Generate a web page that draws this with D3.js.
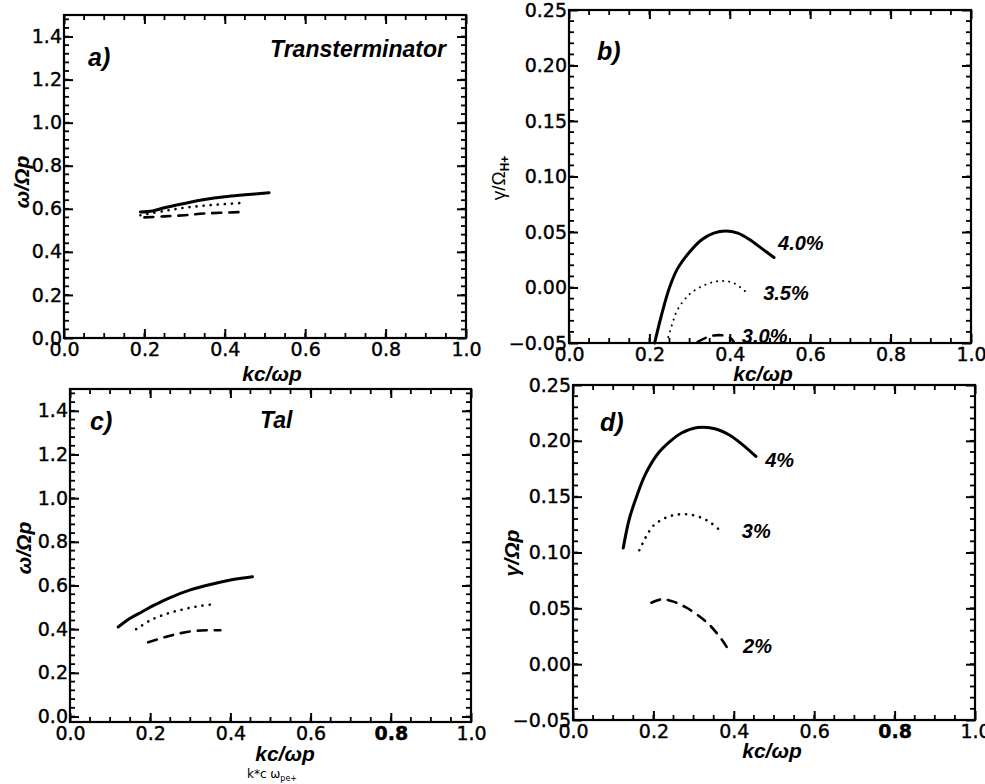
<!DOCTYPE html>
<html>
<head>
<meta charset="utf-8">
<script src="https://cdn.jsdelivr.net/npm/d3@7"></script>
<style>
  body { margin: 0; background: #fff; }
  .tick text { font-family: "DejaVu Sans", sans-serif; font-size: 19px; fill: #000; stroke: #000; stroke-width: 0.4px; }
  .ttl { font-family: "Liberation Sans", Arial, sans-serif; font-weight: bold; font-style: italic; fill: #000; }
</style>
</head>
<body>
<svg id="fig" width="985" height="784"></svg>
<script>
// tick labels
const kTicks = [0, 0.2, 0.4, 0.6, 0.8, 1.0];
const omegaTicks = [0, 0.2, 0.4, 0.6, 0.8, 1.0, 1.2, 1.4];
const gammaTicks = [-0.05, 0, 0.05, 0.10, 0.15, 0.20, 0.25];

// a) Transterminator, real frequency  [kc/wp, w/Wp]
const aSolid  = [[0.19,0.585],[0.22,0.59],[0.25,0.605],[0.30,0.625],[0.35,0.643],[0.40,0.656],[0.45,0.665],[0.51,0.675]];
const aDotted = [[0.19,0.57],[0.25,0.59],[0.30,0.605],[0.35,0.615],[0.40,0.622],[0.45,0.628]];
const aDashed = [[0.20,0.56],[0.25,0.565],[0.30,0.57],[0.35,0.578],[0.44,0.585]];

// b) Transterminator, growth rate
const bSolid  = [[0.213,-0.05],[0.23,-0.025],[0.25,0.0],[0.27,0.017],[0.30,0.032],[0.33,0.043],[0.36,0.049],[0.39,0.051],[0.42,0.049],[0.45,0.043],[0.48,0.035],[0.51,0.027]];
const bDotted = [[0.243,-0.05],[0.255,-0.035],[0.27,-0.02],[0.30,-0.006],[0.33,0.001],[0.36,0.005],[0.38,0.006],[0.41,0.004],[0.44,-0.004]];
const bDashed = [[0.32,-0.049],[0.35,-0.044],[0.38,-0.043],[0.40,-0.045],[0.41,-0.049]];

// c) Tal, real frequency
const cSolid  = [[0.12,0.41],[0.15,0.45],[0.18,0.48],[0.21,0.51],[0.25,0.545],[0.30,0.58],[0.35,0.605],[0.40,0.625],[0.455,0.64]];
const cDotted = [[0.165,0.40],[0.20,0.44],[0.24,0.47],[0.28,0.49],[0.32,0.505],[0.36,0.515]];
const cDashed = [[0.195,0.34],[0.23,0.36],[0.26,0.375],[0.30,0.39],[0.34,0.395],[0.375,0.395]];

// d) Tal, growth rate
const dSolid  = [[0.125,0.104],[0.14,0.13],[0.16,0.152],[0.18,0.17],[0.21,0.188],[0.24,0.199],[0.27,0.207],[0.31,0.212],[0.35,0.211],[0.39,0.205],[0.42,0.197],[0.455,0.186]];
const dDotted = [[0.165,0.102],[0.18,0.113],[0.20,0.124],[0.23,0.131],[0.26,0.134],[0.29,0.134],[0.32,0.131],[0.345,0.126],[0.365,0.12]];
const dDashed = [[0.195,0.055],[0.22,0.058],[0.25,0.056],[0.28,0.051],[0.31,0.044],[0.34,0.035],[0.37,0.022],[0.39,0.011]];

const bLabels = [["4.0%", 0.52, 0.034], ["3.5%", 0.483, -0.011], ["3.0%", 0.43, -0.05]];
const dLabels = [["4%", 0.478, 0.177], ["3%", 0.42, 0.113], ["2%", 0.423, 0.01]];

const styles = {
  solid:  {w: 3,   dash: null},
  dotted: {w: 2.6, dash: "0.1 7"},
  fine:   {w: 2,   dash: "0.1 6"},
  dashed: {w: 2.6, dash: "9 8"}
};

const svg = d3.select("#fig");

const panels = [
  {l: 64, r: 466, t: 15, b: 338, yDom: [0, 1.5], yTicks: omegaTicks, yMinor: 0.04, yFmt: ".1f",
   series: [[aSolid, "solid"], [aDotted, "dotted"], [aDashed, "dashed"]],
   tag: ["a)", 88, 66], xTitle: [272, 381], yTitle: [22, 182, "ω/Ωp"]},
  {l: 569, r: 971, t: 10, b: 343, yDom: [-0.05, 0.25], yTicks: gammaTicks, yMinor: 0.01, yFmt: ".2f",
   series: [[bSolid, "solid"], [bDotted, "fine"], [bDashed, "dashed"]],
   tag: ["b)", 597, 60], xTitle: [763, 381], labels: bLabels},
  {l: 70, r: 471, t: 389, b: 722, yDom: [-0.025, 1.5], yTicks: omegaTicks, yMinor: 0.04, yFmt: ".1f",
   series: [[cSolid, "solid"], [cDotted, "dotted"], [cDashed, "dashed"]],
   tag: ["c)", 90, 430], xTitle: [285, 761], yTitle: [24, 548, "ω/Ωp"], bold08: true},
  {l: 573, r: 975, t: 385, b: 720, yDom: [-0.05, 0.25], yTicks: gammaTicks, yMinor: 0.01, yFmt: ".2f",
   series: [[dSolid, "solid"], [dDotted, "dotted"], [dDashed, "dashed"]],
   tag: ["d)", 600, 431], xTitle: [772, 758], yTitle: [512, 553, "γ/Ωp"], labels: dLabels, bold08: true}
];

panels.forEach(p => {
  const x = d3.scaleLinear().domain([0, 1]).range([p.l, p.r]);
  const y = d3.scaleLinear().domain(p.yDom).range([p.b, p.t]);
  const g = svg.append("g");

  const xMinor = d3.range(0, 1.0001, 0.05);
  const yMinor = d3.range(p.yTicks[0], p.yDom[1] + 1e-6, p.yMinor);

  g.append("rect")
    .attr("x", p.l).attr("y", p.t)
    .attr("width", p.r - p.l).attr("height", p.b - p.t)
    .attr("fill", "none").attr("stroke", "#000").attr("stroke-width", 2.2);

  // minor ticks, pointing inward from all four sides
  const mg = g.append("g").attr("stroke", "#000").attr("stroke-width", 1.8);
  mg.selectAll(".mx").data(xMinor).join("line")
    .attr("x1", d => x(d)).attr("x2", d => x(d))
    .attr("y1", p.b).attr("y2", p.b - 5);
  mg.selectAll(".mxt").data(xMinor).join("line")
    .attr("x1", d => x(d)).attr("x2", d => x(d))
    .attr("y1", p.t).attr("y2", p.t + 5);
  mg.selectAll(".my").data(yMinor).join("line")
    .attr("x1", p.l).attr("x2", p.l + 5)
    .attr("y1", d => y(d)).attr("y2", d => y(d));
  mg.selectAll(".myr").data(yMinor).join("line")
    .attr("x1", p.r).attr("x2", p.r - 5)
    .attr("y1", d => y(d)).attr("y2", d => y(d));

  // major ticks, labels on bottom and left
  g.append("g").attr("transform", `translate(0,${p.b})`)
    .call(d3.axisBottom(x).tickValues(kTicks).tickSize(-9).tickSizeOuter(0).tickPadding(5).tickFormat(d3.format(".1f")))
    .call(s => s.select(".domain").remove())
    .call(s => s.selectAll("line").attr("stroke-width", 2))
    .call(s => s.selectAll("text").attr("font-weight", d => p.bold08 && d === 0.8 ? "bold" : null));
  g.append("g").attr("transform", `translate(0,${p.t})`)
    .call(d3.axisTop(x).tickValues(kTicks).tickSize(-9).tickSizeOuter(0).tickFormat(""))
    .call(s => s.select(".domain").remove())
    .selectAll("line").attr("stroke-width", 2);
  g.append("g").attr("transform", `translate(${p.l},0)`)
    .call(d3.axisLeft(y).tickValues(p.yTicks).tickSize(-9).tickSizeOuter(0).tickPadding(2).tickFormat(d3.format(p.yFmt)))
    .call(s => s.select(".domain").remove())
    .selectAll("line").attr("stroke-width", 2);
  g.append("g").attr("transform", `translate(${p.r},0)`)
    .call(d3.axisRight(y).tickValues(p.yTicks).tickSize(-9).tickSizeOuter(0).tickFormat(""))
    .call(s => s.select(".domain").remove())
    .selectAll("line").attr("stroke-width", 2);

  // curves
  const line = d3.line().x(d => x(d[0])).y(d => y(d[1])).curve(d3.curveCatmullRom);
  p.series.forEach(([data, st]) => {
    g.append("path")
      .attr("d", line(data))
      .attr("fill", "none")
      .attr("stroke", "#000")
      .attr("stroke-width", styles[st].w)
      .attr("stroke-linecap", "round")
      .attr("stroke-dasharray", styles[st].dash);
  });

  // percent labels next to curves
  (p.labels || []).forEach(([txt, lx, ly]) => {
    g.append("text").attr("class", "ttl")
      .attr("x", x(lx)).attr("y", y(ly))
      .attr("font-size", 20)
      .text(txt);
  });

  g.append("text").attr("class", "ttl")
    .attr("x", p.tag[1]).attr("y", p.tag[2])
    .attr("font-size", 25)
    .text(p.tag[0]);

  g.append("text").attr("class", "ttl")
    .attr("x", p.xTitle[0]).attr("y", p.xTitle[1])
    .attr("text-anchor", "middle")
    .attr("font-size", 21)
    .text("kc/ωp");

  if (p.yTitle) {
    g.append("text").attr("class", "ttl")
      .attr("transform", `translate(${p.yTitle[0]},${p.yTitle[1]}) rotate(-90)`)
      .attr("text-anchor", "middle")
      .attr("dy", "0.35em")
      .attr("font-size", 21)
      .text(p.yTitle[2]);
  }
});

// panel titles
svg.append("text").attr("class", "ttl")
  .attr("x", 446).attr("y", 57)
  .attr("text-anchor", "end")
  .attr("font-size", 23)
  .text("Transterminator");
svg.append("text").attr("class", "ttl")
  .attr("x", 260).attr("y", 428)
  .attr("font-size", 23)
  .text("Tal");

// b) y title with subscript
const bY = svg.append("text")
  .attr("transform", "translate(498,178) rotate(-90)")
  .attr("text-anchor", "middle")
  .attr("dy", "0.35em")
  .attr("font-family", "Liberation Sans, Arial, sans-serif")
  .attr("font-size", 19);
bY.append("tspan").text("γ/Ω");
bY.append("tspan").attr("font-size", 12).attr("dy", 4).attr("font-weight", "bold").text("H+");

// small caption under panel c
const cap = svg.append("text")
  .attr("x", 272).attr("y", 778)
  .attr("text-anchor", "middle")
  .attr("font-family", "DejaVu Sans, sans-serif")
  .attr("font-size", 12);
cap.append("tspan").text("k*c  ω");
cap.append("tspan").attr("font-size", 8).attr("dy", 3).text("pe+");
</script>
</body>
</html>
